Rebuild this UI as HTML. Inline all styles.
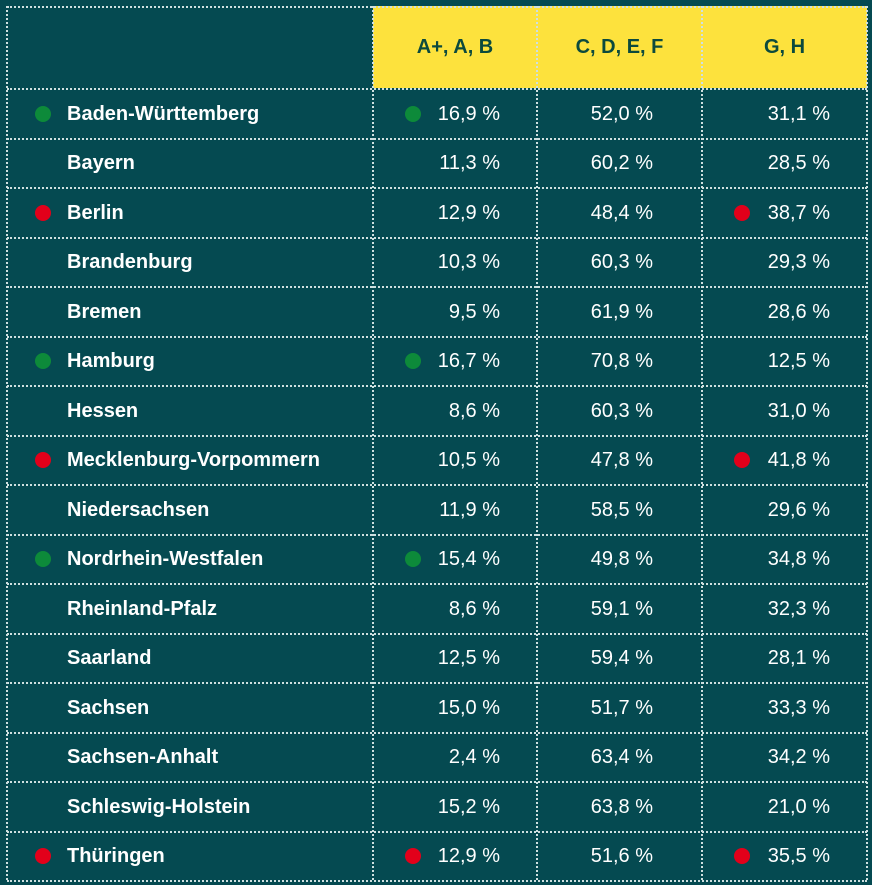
<!DOCTYPE html>
<html><head><meta charset="utf-8"><style>
body{margin:0;width:872px;height:885px;background:#054a51;overflow:hidden;font-family:"Liberation Sans",sans-serif;}
#t{position:absolute;left:0;top:0;width:872px;height:885px}
.cell{position:absolute;box-sizing:border-box;}
.ln{position:absolute;border:0 dotted #cfe0e0;}
.txt{position:absolute;color:#fff;font-size:20px;line-height:20px;white-space:nowrap}
.dot{position:absolute;width:16px;height:16px;border-radius:50%}
.hdr{position:absolute;color:#0c4a3d;font-weight:bold;font-size:20px;text-align:center;line-height:20px}
</style></head><body>
<div id="t"></div>
<script>
const states=["Baden-Württemberg","Bayern","Berlin","Brandenburg","Bremen","Hamburg","Hessen","Mecklenburg-Vorpommern","Niedersachsen","Nordrhein-Westfalen","Rheinland-Pfalz","Saarland","Sachsen","Sachsen-Anhalt","Schleswig-Holstein","Thüringen"];
const colHeaders=["A+, A, B","C, D, E, F","G, H"];
const valAB=["16,9","11,3","12,9","10,3","9,5","16,7","8,6","10,5","11,9","15,4","8,6","12,5","15,0","2,4","15,2","12,9"];
const valCF=["52,0","60,2","48,4","60,3","61,9","70,8","60,3","47,8","58,5","49,8","59,1","59,4","51,7","63,4","63,8","51,6"];
const valGH=["31,1","28,5","38,7","29,3","28,6","12,5","31,0","41,8","29,6","34,8","32,3","28,1","33,3","34,2","21,0","35,5"];
const rowMark=["g","","r","","","g","","r","","g","","","","","","r"];
const markAB=["g","","","","","g","","","","g","","","","","","r"];
const markGH=["","","r","","","","","r","","","","","","","","r"];
const t=document.getElementById('t');
const L=7,R=867,TOP=6,HB=88,RH=49.5;
const cols=[L,373,537,702,R];
const colors={g:"#0d8a3a",r:"#e2001a"};
// header yellow
for(let c=0;c<3;c++){
 const h=document.createElement('div');h.className='cell';
 
 
 h.style.cssText=`left:${cols[c+1]}px;top:${TOP}px;width:${cols[c+2]-cols[c+1]}px;height:${HB-TOP}px;background:#fde23d`;
 t.appendChild(h);
 const tx=document.createElement('div');tx.className='hdr';
 
 
 tx.textContent=colHeaders[c];
 tx.style.cssText=`left:${cols[c+1]}px;width:${cols[c+2]-cols[c+1]}px;top:${(TOP+HB)/2-10}px`;
 t.appendChild(tx);
}
function hline(y){const l=document.createElement('div');l.className='ln';
 
 
 l.style.cssText=`left:${L}px;top:${y}px;width:${R-L}px;border-top-width:2px`;t.appendChild(l);}
function vline(x){const l=document.createElement('div');l.className='ln';
 
 
 l.style.cssText=`left:${x}px;top:${TOP}px;height:${HB-TOP+RH*states.length}px;border-left-width:2px`;t.appendChild(l);}
hline(TOP);hline(HB);
states.forEach((s,i)=>hline(HB+RH*(i+1)));
cols.forEach(x=>vline(x-1));
function dot(x,cy,k){const d=document.createElement('div');d.className='dot';
 
 
 d.style.cssText=`left:${x-8}px;top:${cy-8}px;background:${colors[k]}`;t.appendChild(d);}
function text(str,cy,left,right,bold,name){const d=document.createElement('div');d.className='txt';
 
 
 d.textContent=str;
 d.style.top=(cy-10)+'px';
 if(left!=null)d.style.left=left+'px';else d.style.right=(872-right)+'px';
 if(bold)d.style.fontWeight='bold';
 t.appendChild(d);}
states.forEach((s,i)=>{
 const cy=HB+RH*i+RH/2+1;
 if(rowMark[i])dot(43,cy,rowMark[i]);
 text(s,cy,67,null,true,'state-name');
 if(markAB[i])dot(413,cy,markAB[i]);
 text(valAB[i]+' %',cy,null,500,false,'value-a-b');
 text(valCF[i]+' %',cy,null,653,false,'value-c-f');
 if(markGH[i])dot(742,cy,markGH[i]);
 text(valGH[i]+' %',cy,null,830,false,'value-g-h');
});
</script>
</body></html>
